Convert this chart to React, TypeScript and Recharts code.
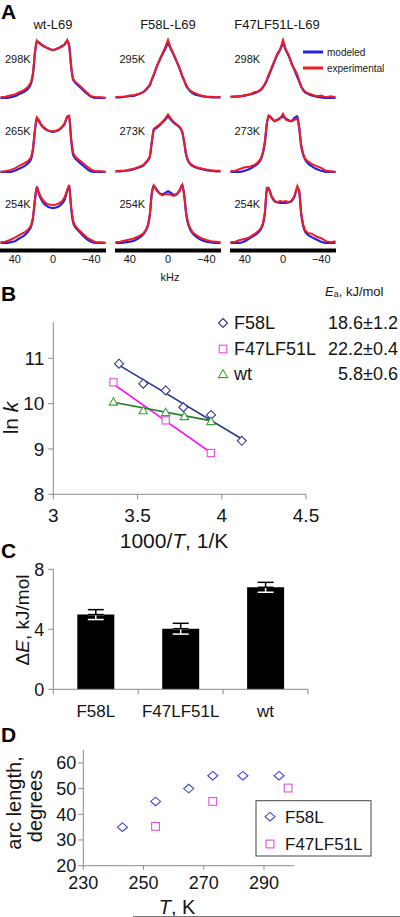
import React from 'react';
import { LineChart, Line, XAxis, YAxis, ScatterChart, Scatter, BarChart, Bar, ErrorBar } from 'recharts';

const FONT = '"Liberation Sans", Arial, Helvetica, sans-serif';
const TXT = '#151515';
const AXIS = '#8a8a8a';
const BLUE = '#2323e6';
const RED = '#ee1c24';

// ---------- Panel A: 2H NMR line shapes ----------
const KHZ = [55, 50, 45, 40, 35, 30, 26, 23, 21, 19, 17, 15, 12, 9, 6, 3, 0, -3, -6, -9, -12, -15, -17, -19, -21, -23, -26, -30, -35, -40, -45, -50, -55];
const KHZ_TICKS = [40, 0, -40];
const COLUMN_TITLES = ['wt-L69', 'F58L-L69', 'F47LF51L-L69'];
const TEMPS = [
  ['298K', '265K', '254K'],
  ['295K', '273K', '254K'],
  ['298K', '273K', '254K'],
];

const WT_298_MODEL = [0, 0, 0.01, 0.03, 0.07, 0.11, 0.16, 0.25, 0.4, 0.75, 0.98, 0.96, 0.92, 0.89, 0.86, 0.84, 0.83, 0.84, 0.86, 0.89, 0.92, 0.98, 0.9, 0.55, 0.32, 0.27, 0.22, 0.16, 0.08, 0.02, 0, 0, 0];
const WT_298_EXP = [0.01, 0.02, 0.04, 0.06, 0.1, 0.14, 0.19, 0.27, 0.42, 0.78, 0.99, 0.95, 0.91, 0.88, 0.86, 0.84, 0.82, 0.84, 0.86, 0.88, 0.92, 1.0, 0.88, 0.52, 0.33, 0.28, 0.24, 0.18, 0.1, 0.03, 0.01, 0.01, 0];
const WT_265_MODEL = [0, 0, 0, 0.02, 0.06, 0.1, 0.15, 0.22, 0.38, 0.7, 0.93, 0.88, 0.8, 0.75, 0.72, 0.7, 0.69, 0.7, 0.72, 0.76, 0.82, 0.95, 0.95, 0.55, 0.3, 0.24, 0.19, 0.13, 0.06, 0.01, 0, 0, 0];
const WT_265_EXP = [0, 0.01, 0.03, 0.06, 0.11, 0.15, 0.19, 0.25, 0.4, 0.72, 0.94, 0.9, 0.81, 0.76, 0.72, 0.7, 0.7, 0.71, 0.73, 0.77, 0.83, 0.96, 0.97, 0.57, 0.33, 0.27, 0.22, 0.17, 0.1, 0.04, 0.01, 0.01, 0];
const WT_254_MODEL = [0, 0, 0.01, 0.03, 0.08, 0.13, 0.2, 0.28, 0.42, 0.72, 0.96, 0.86, 0.74, 0.67, 0.63, 0.61, 0.6, 0.61, 0.63, 0.67, 0.74, 0.9, 0.98, 0.6, 0.36, 0.28, 0.22, 0.15, 0.07, 0.02, 0, 0, 0];
const WT_254_EXP = [0.01, 0.02, 0.05, 0.09, 0.14, 0.18, 0.23, 0.3, 0.44, 0.74, 0.97, 0.88, 0.77, 0.71, 0.67, 0.66, 0.65, 0.66, 0.68, 0.71, 0.78, 0.92, 1.0, 0.62, 0.38, 0.3, 0.24, 0.18, 0.1, 0.05, 0.01, 0.01, 0];

const F58_295_MODEL = [0.01, 0.01, 0.02, 0.03, 0.04, 0.07, 0.1, 0.14, 0.18, 0.22, 0.31, 0.39, 0.53, 0.64, 0.75, 0.84, 0.93, 0.84, 0.74, 0.63, 0.51, 0.37, 0.3, 0.21, 0.16, 0.12, 0.08, 0.05, 0.03, 0.02, 0.01, 0.01, 0.01];
const F58_295_EXP = [0.01, 0.02, 0.02, 0.04, 0.05, 0.07, 0.1, 0.15, 0.19, 0.23, 0.32, 0.4, 0.53, 0.65, 0.76, 0.87, 1.0, 0.86, 0.75, 0.63, 0.52, 0.38, 0.3, 0.22, 0.17, 0.13, 0.1, 0.07, 0.04, 0.02, 0.02, 0.01, 0.02];
const F58_273_MODEL = [0.01, 0.01, 0.02, 0.03, 0.05, 0.08, 0.11, 0.16, 0.2, 0.26, 0.5, 0.72, 0.76, 0.8, 0.85, 0.9, 0.95, 0.9, 0.85, 0.81, 0.77, 0.68, 0.5, 0.29, 0.19, 0.14, 0.1, 0.07, 0.05, 0.03, 0.02, 0.01, 0.01];
const F58_273_EXP = [0.01, 0.02, 0.02, 0.04, 0.06, 0.09, 0.12, 0.17, 0.21, 0.27, 0.52, 0.74, 0.78, 0.81, 0.86, 0.92, 0.99, 0.92, 0.86, 0.82, 0.78, 0.7, 0.52, 0.3, 0.2, 0.15, 0.11, 0.08, 0.06, 0.04, 0.03, 0.02, 0.02];
const F58_254_MODEL = [0, 0, 0.01, 0.02, 0.04, 0.09, 0.15, 0.22, 0.3, 0.48, 0.85, 0.99, 0.92, 0.86, 0.84, 0.86, 0.89, 0.86, 0.83, 0.84, 0.9, 1.0, 0.82, 0.5, 0.33, 0.24, 0.16, 0.1, 0.05, 0.02, 0.01, 0, 0];
const F58_254_EXP = [0.01, 0.02, 0.04, 0.06, 0.08, 0.12, 0.16, 0.23, 0.31, 0.5, 0.86, 0.99, 0.91, 0.85, 0.82, 0.84, 0.84, 0.83, 0.81, 0.83, 0.9, 1.0, 0.83, 0.52, 0.35, 0.26, 0.18, 0.13, 0.08, 0.05, 0.03, 0.02, 0.01];

const F47_298_MODEL = [0.02, 0.02, 0.03, 0.04, 0.06, 0.08, 0.11, 0.14, 0.18, 0.23, 0.3, 0.38, 0.5, 0.63, 0.74, 0.83, 0.92, 0.82, 0.72, 0.6, 0.48, 0.36, 0.28, 0.2, 0.14, 0.1, 0.07, 0.04, 0.02, 0.01, 0, 0, 0];
const F47_298_EXP = [0.02, 0.03, 0.02, 0.05, 0.06, 0.1, 0.11, 0.15, 0.19, 0.24, 0.31, 0.4, 0.52, 0.64, 0.76, 0.84, 1.0, 0.83, 0.74, 0.58, 0.5, 0.4, 0.3, 0.19, 0.15, 0.11, 0.08, 0.06, 0.03, 0.04, 0.01, 0.03, 0.01];
const F47_273_MODEL = [0, 0, 0, 0.02, 0.05, 0.1, 0.15, 0.22, 0.33, 0.5, 0.82, 0.97, 0.93, 0.88, 0.9, 0.93, 0.95, 0.92, 0.89, 0.88, 0.93, 0.96, 0.75, 0.45, 0.3, 0.22, 0.15, 0.1, 0.05, 0.02, 0, 0, 0];
const F47_273_EXP = [0.01, 0.02, 0.05, 0.08, 0.09, 0.12, 0.17, 0.24, 0.34, 0.52, 0.84, 0.97, 0.92, 0.87, 0.89, 0.92, 1.0, 0.9, 0.88, 0.87, 0.9, 0.92, 0.77, 0.47, 0.32, 0.23, 0.18, 0.14, 0.1, 0.07, 0.02, 0.01, 0];
const F47_254_MODEL = [0, 0, 0, 0.03, 0.08, 0.13, 0.18, 0.24, 0.32, 0.5, 0.9, 0.93, 0.8, 0.72, 0.7, 0.69, 0.69, 0.69, 0.7, 0.72, 0.8, 0.95, 0.88, 0.5, 0.3, 0.2, 0.14, 0.1, 0.06, 0.02, 0, 0, 0];
const F47_254_EXP = [0.01, 0.02, 0.05, 0.07, 0.1, 0.15, 0.2, 0.26, 0.34, 0.52, 0.95, 0.95, 0.81, 0.73, 0.7, 0.72, 0.71, 0.72, 0.7, 0.73, 0.81, 0.98, 0.9, 0.53, 0.33, 0.22, 0.17, 0.16, 0.11, 0.08, 0.03, 0.01, 0.03];

const SPECTRA = [
  [[WT_298_MODEL, WT_298_EXP], [WT_265_MODEL, WT_265_EXP], [WT_254_MODEL, WT_254_EXP]],
  [[F58_295_MODEL, F58_295_EXP], [F58_273_MODEL, F58_273_EXP], [F58_254_MODEL, F58_254_EXP]],
  [[F47_298_MODEL, F47_298_EXP], [F47_273_MODEL, F47_273_EXP], [F47_254_MODEL, F47_254_EXP]],
];

// ---------- Panel B: Arrhenius plot ----------
const B_XTICKS = [3, 3.5, 4, 4.5];
const B_YTICKS = [8, 9, 10, 11];
const B_F58L_X = [3.39, 3.534, 3.667, 3.772, 3.936, 4.119];
const B_F58L_Y = [10.88, 10.44, 10.29, 9.92, 9.75, 9.18];
const B_F47_X = [3.357, 3.667, 3.935];
const B_F47_Y = [10.47, 9.63, 8.91];
const B_WT_X = [3.357, 3.534, 3.667, 3.778, 3.936];
const B_WT_Y = [10.04, 9.85, 9.81, 9.72, 9.61];
const B_F58L_FIT_X = [3.39, 4.12];
const B_F58L_FIT_Y = [10.85, 9.22];
const B_F47_FIT_X = [3.357, 3.935];
const B_F47_FIT_Y = [10.43, 8.92];
const B_WT_FIT_X = [3.357, 3.94];
const B_WT_FIT_Y = [10.03, 9.62];
const B_NAMES = ['F58L', 'F47LF51L', 'wt'];
const B_EA = ['18.6\u00b11.2', '22.2\u00b10.4', '5.8\u00b10.6'];

// ---------- Panel C: bar chart ----------
const C_CATS = ['F58L', 'F47LF51L', 'wt'];
const C_VALS = [4.98, 4.04, 6.8];
const C_ERRS = [0.33, 0.36, 0.33];
const C_YTICKS = [0, 4, 8];

// ---------- Panel D: arc length ----------
const D_F58L_T = [243, 254, 265, 273, 283, 295];
const D_F58L_ARC = [35, 45, 50, 55, 55, 55];
const D_F47_T = [254, 273, 298];
const D_F47_ARC = [35.3, 45, 50.2];
const D_XTICKS = [230, 250, 270, 290];
const D_YTICKS = [20, 30, 40, 50, 60];
const D_NAMES = ['F58L', 'F47LF51L'];

const NAVY = '#35358f';
const NAVY_LINE = '#2b3990';
const MAG = '#e84be8';
const MAG_LINE = '#ff00ff';
const GRN = '#3aa33a';
const GRN_LINE = '#1f7f1f';
const D_BLUE = '#4646d2';
const D_MAG = '#e050e0';

const zip = (xs: number[], ys: number[]) => xs.map((x, i) => ({ x, y: ys[i] }));

// marker shapes
const diamondShape = (stroke: string, rx: number, ry: number) => (p: any) => (
  <path d={`M${p.cx},${p.cy - ry}L${p.cx + rx},${p.cy}L${p.cx},${p.cy + ry}L${p.cx - rx},${p.cy}Z`} fill="#fff" stroke={stroke} strokeWidth={1.1} />
);
const squareShape = (stroke: string, h: number) => (p: any) => (
  <rect x={p.cx - h} y={p.cy - h} width={2 * h} height={2 * h} fill="#fff" stroke={stroke} strokeWidth={1.1} />
);
const triangleShape = (stroke: string, rx: number, ry: number) => (p: any) => (
  <path d={`M${p.cx},${p.cy - ry}L${p.cx + rx},${p.cy + ry * 0.8}L${p.cx - rx},${p.cy + ry * 0.8}Z`} fill="#fff" stroke={stroke} strokeWidth={1.1} />
);
const noShape = () => <g />;

const COL_X = [0, 115, 230];
const ROW_BASE = [98.3, 171.7, 243.3];
const UNIT = 58;
const Y_MIN = -0.13;
const Y_MAX = 1.05;

function Spectrum({ model, exp, left, base, showAxis }: any) {
  const data = KHZ.map((k, i) => ({ k, m: model[i], e: exp[i] }));
  const plotH = (Y_MAX - Y_MIN) * UNIT;
  const axisH = showAxis ? 22 : 0;
  return (
    <div style={{ position: 'absolute', left, top: base - Y_MAX * UNIT }}>
      <LineChart width={106} height={plotH + axisH} data={data} margin={{ top: 0, right: 0, bottom: 0, left: 0 }}>
        <XAxis
          dataKey="k"
          type="number"
          domain={[-55.5, 55.5]}
          reversed
          allowDataOverflow
          hide={!showAxis}
          height={axisH}
          ticks={KHZ_TICKS}
          interval={0}
          axisLine={{ stroke: '#000', strokeWidth: 4 }}
          tickLine={false}
          tickSize={4}
          tickMargin={1}
          tick={{ fontSize: 11, fill: TXT, fontFamily: FONT }}
          tickFormatter={(v: number) => (v < 0 ? '\u2212' + Math.abs(v) : String(v))}
        />
        <YAxis type="number" domain={[Y_MIN, Y_MAX]} hide allowDataOverflow />
        <Line dataKey="m" type="monotone" stroke={BLUE} strokeWidth={2.2} dot={false} isAnimationActive={false} />
        <Line dataKey="e" type="linear" stroke={RED} strokeWidth={2} dot={false} isAnimationActive={false} />
      </LineChart>
    </div>
  );
}

function CTick(props: any) {
  const { x, y, payload } = props;
  const v = payload.value;
  if (Number.isInteger(v)) {
    return <line x1={x} x2={x} y1={y} y2={y + 5} stroke={AXIS} strokeWidth={1} />;
  }
  return (
    <text x={x} y={y + 22} textAnchor="middle" dominantBaseline="central" fontSize={17} fontFamily={FONT} fill={TXT}>
      {C_CATS[Math.floor(v)]}
    </text>
  );
}

export default function App() {
  const cData = C_CATS.map((name, i) => ({
    pos: i + 0.5,
    name,
    val: C_VALS[i],
    up: [0, C_ERRS[i]],
    down: [C_ERRS[i], 0],
  }));
  const tickStyle = (fs: number) => ({ fontSize: fs, fill: TXT, fontFamily: FONT });

  return (
    <div style={{ position: 'absolute', left: 0, top: 0, width: 400, height: 917, background: '#fff', overflow: 'hidden', fontFamily: FONT }}>
      {SPECTRA.map((col, c) =>
        col.map((pair, r) => (
          <Spectrum key={`${c}-${r}`} model={pair[0]} exp={pair[1]} left={COL_X[c]} base={ROW_BASE[r]} showAxis={r === 2} />
        ))
      )}

      {/* Panel B */}
      <div style={{ position: 'absolute', left: 0, top: 300 }}>
        <ScatterChart width={400} height={260} margin={{ top: 22, right: 94, bottom: 15.7, left: 8.3 }}>
          <XAxis type="number" dataKey="x" domain={[3, 4.5]} ticks={B_XTICKS} interval={0} height={50}
            axisLine={{ stroke: AXIS }} tickLine={{ stroke: AXIS }} tickSize={5} tickMargin={9} tick={tickStyle(19)} allowDataOverflow />
          <YAxis type="number" dataKey="y" domain={[8, 11.8]} ticks={B_YTICKS} interval={0} width={45}
            axisLine={{ stroke: AXIS }} tickLine={{ stroke: AXIS }} tickSize={5} tickMargin={4} tick={tickStyle(19)} allowDataOverflow />
          <Scatter data={zip(B_F58L_FIT_X, B_F58L_FIT_Y)} line={{ stroke: NAVY_LINE, strokeWidth: 1.6 }} shape={noShape} isAnimationActive={false} />
          <Scatter data={zip(B_F47_FIT_X, B_F47_FIT_Y)} line={{ stroke: MAG_LINE, strokeWidth: 1.6 }} shape={noShape} isAnimationActive={false} />
          <Scatter data={zip(B_WT_FIT_X, B_WT_FIT_Y)} line={{ stroke: GRN_LINE, strokeWidth: 1.6 }} shape={noShape} isAnimationActive={false} />
          <Scatter data={zip(B_F58L_X, B_F58L_Y)} shape={diamondShape(NAVY, 4.5, 4.5)} isAnimationActive={false} />
          <Scatter data={zip(B_F47_X, B_F47_Y)} shape={squareShape(MAG, 3.6)} isAnimationActive={false} />
          <Scatter data={zip(B_WT_X, B_WT_Y)} shape={triangleShape(GRN, 4.2, 4.2)} isAnimationActive={false} />
        </ScatterChart>
      </div>

      {/* Panel C */}
      <div style={{ position: 'absolute', left: 0, top: 550 }}>
        <BarChart width={400} height={180} data={cData} margin={{ top: 19.3, right: 92, bottom: 10.7, left: 8.3 }}>
          <XAxis type="number" dataKey="pos" domain={[0, 3]} ticks={[0, 0.5, 1, 1.5, 2, 2.5, 3]} interval={0} height={30}
            axisLine={{ stroke: AXIS }} tickLine={false} tickSize={0} tickMargin={0} tick={<CTick />} />
          <YAxis type="number" domain={[0, 8]} ticks={C_YTICKS} interval={0} width={45}
            axisLine={{ stroke: AXIS }} tickLine={{ stroke: AXIS }} tickSize={5} tickMargin={4} tick={tickStyle(18)} />
          <Bar dataKey="val" fill="#000" barSize={37} isAnimationActive={false}>
            <ErrorBar dataKey="down" direction="y" width={8} stroke="#fff" strokeWidth={1.5} />
            <ErrorBar dataKey="up" direction="y" width={8} stroke="#000" strokeWidth={1.5} />
          </Bar>
        </BarChart>
      </div>

      {/* Panel D */}
      <div style={{ position: 'absolute', left: 0, top: 740 }}>
        <ScatterChart width={400} height={177} margin={{ top: 10, right: 105.9, bottom: 21.3, left: 33.3 }}>
          <XAxis type="number" dataKey="x" domain={[230, 300]} ticks={D_XTICKS} interval={0} height={30}
            axisLine={{ stroke: AXIS }} tickLine={{ stroke: AXIS }} tickSize={4} tickMargin={7} tick={tickStyle(18)} />
          <YAxis type="number" dataKey="y" domain={[20, 65]} ticks={D_YTICKS} interval={0} width={50}
            axisLine={{ stroke: AXIS }} tickLine={{ stroke: AXIS }} tickSize={5} tickMargin={2} tick={tickStyle(18)} />
          <Scatter data={zip(D_F58L_T, D_F58L_ARC)} shape={diamondShape(D_BLUE, 5, 4.3)} isAnimationActive={false} />
          <Scatter data={zip(D_F47_T, D_F47_ARC)} shape={squareShape(D_MAG, 3.9)} isAnimationActive={false} />
        </ScatterChart>
      </div>

      {/* Annotations */}
      <svg width={400} height={917} style={{ position: 'absolute', left: 0, top: 0, pointerEvents: 'none' }} fontFamily={FONT}>
        {/* Panel A */}
        <text x={1} y={19} fontSize={21} fontWeight="bold" fill="#000">A</text>
        {COLUMN_TITLES.map((t, i) => (
          <text key={t} x={[53, 168, 277][i]} y={24} fontSize={13} textAnchor="middle" dominantBaseline="central" fill={TXT}>{t}</text>
        ))}
        {TEMPS.map((col, c) =>
          col.map((t, r) => (
            <text key={`${c}${r}`} x={[5, 119.5, 234.5][c]} y={[58.7, 130.5, 204.3][r]} fontSize={11} dominantBaseline="central" fill={TXT}>{t}</text>
          ))
        )}
        <line x1={303} x2={323} y1={52} y2={52} stroke={BLUE} strokeWidth={3} />
        <line x1={303} x2={323} y1={68} y2={68} stroke={RED} strokeWidth={3} />
        <text x={327} y={52} fontSize={10} dominantBaseline="central" fill={TXT}>modeled</text>
        <text x={327} y={68} fontSize={10} dominantBaseline="central" fill={TXT}>experimental</text>
        <text x={170} y={277} fontSize={11} textAnchor="middle" dominantBaseline="central" fill={TXT}>kHz</text>

        {/* Panel B */}
        <text x={1} y={301} fontSize={21} fontWeight="bold" fill="#000">B</text>
        <text x={325} y={291} fontSize={13} dominantBaseline="central" fill={TXT}>
          <tspan fontStyle="italic">E</tspan>
          <tspan fontSize={9} dy={3}>a</tspan>
          <tspan dy={-3}>, kJ/mol</tspan>
        </text>
        <path d="M223,318.5L227.5,323L223,327.5L218.5,323Z" fill="#fff" stroke={NAVY} strokeWidth={1.1} />
        <rect x={219.2} y={345.2} width={7.6} height={7.6} fill="#fff" stroke={MAG} strokeWidth={1.1} />
        <path d="M223,369.6L227.6,377.6L218.4,377.6Z" fill="#fff" stroke={GRN} strokeWidth={1.1} />
        {B_NAMES.map((n, i) => (
          <text key={n} x={234} y={[323, 349, 374][i]} fontSize={18} dominantBaseline="central" fill={TXT}>{n}</text>
        ))}
        {B_EA.map((v, i) => (
          <text key={v} x={398} y={[323, 349, 374][i]} fontSize={18} textAnchor="end" dominantBaseline="central" fill={TXT}>{v}</text>
        ))}
        <text transform="translate(10,418) rotate(-90)" fontSize={21} textAnchor="middle" dominantBaseline="central" fill={TXT}>
          ln <tspan fontStyle="italic">k</tspan>
        </text>
        <text x={174} y={540} fontSize={21} textAnchor="middle" dominantBaseline="central" fill={TXT}>
          1000/<tspan fontStyle="italic">T</tspan>, 1/K
        </text>

        {/* Panel C */}
        <text x={1} y={558} fontSize={21} fontWeight="bold" fill="#000">C</text>
        <text transform="translate(22,620) rotate(-90)" fontSize={19} textAnchor="middle" dominantBaseline="central" fill={TXT}>
          {'\u0394'}<tspan fontStyle="italic">E</tspan>, kJ/mol
        </text>

        {/* Panel D */}
        <text x={1} y={742} fontSize={21} fontWeight="bold" fill="#000">D</text>
        <text transform="translate(14,803) rotate(-90)" fontSize={20} textAnchor="middle" dominantBaseline="central" fill={TXT}>arc length,</text>
        <text transform="translate(35,806) rotate(-90)" fontSize={20} textAnchor="middle" dominantBaseline="central" fill={TXT}>degrees</text>
        <text x={177} y={907} fontSize={20} textAnchor="middle" dominantBaseline="central" fill={TXT}>
          <tspan fontStyle="italic">T</tspan>, K
        </text>
        <rect x={256} y={800.7} width={115} height={55.3} fill="#fff" stroke="#444" strokeWidth={1} />
        <path d="M270,812.4L275,816.7L270,821L265,816.7Z" fill="#fff" stroke={D_BLUE} strokeWidth={1.1} />
        <rect x={266.1} y={840.1} width={7.8} height={7.8} fill="#fff" stroke={D_MAG} strokeWidth={1.1} />
        {D_NAMES.map((n, i) => (
          <text key={n} x={285} y={[817, 844][i]} fontSize={17} dominantBaseline="central" fill={TXT}>{n}</text>
        ))}
        <line x1={133} x2={400} y1={916.5} y2={916.5} stroke="#777" strokeWidth={1} />
      </svg>
    </div>
  );
}
